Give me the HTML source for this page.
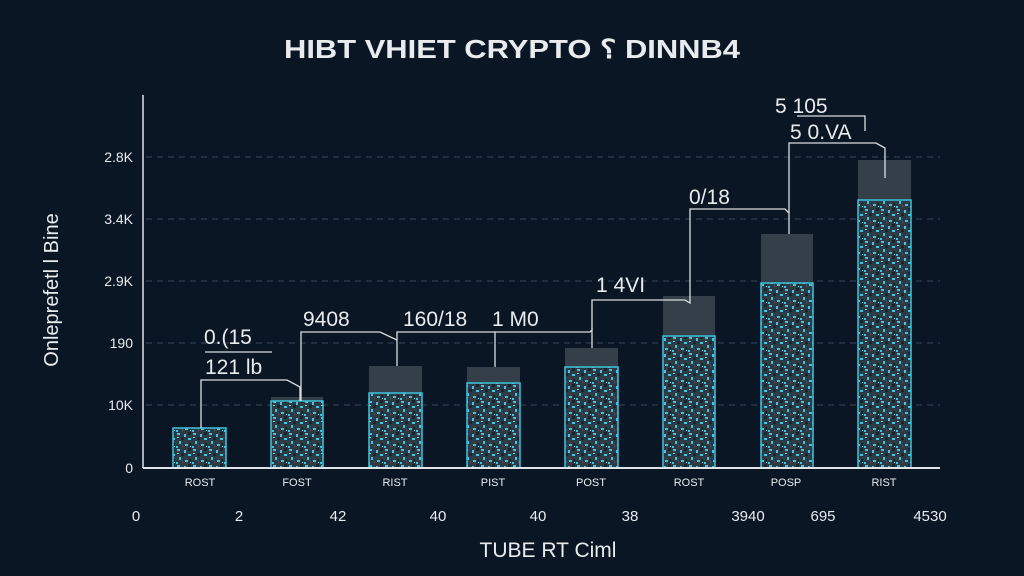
<!DOCTYPE html>
<html><head><meta charset="utf-8"><style>
html,body{margin:0;padding:0;background:#0b1624;}
svg{display:block}
text{font-family:"Liberation Sans",sans-serif;fill:#e8ecef}
</style></head><body>
<svg width="1024" height="576" viewBox="0 0 1024 576" xmlns="http://www.w3.org/2000/svg">
<defs>
<pattern id="tex" width="16" height="16" patternUnits="userSpaceOnUse">
<rect width="16" height="16" fill="#2e3a44"/>
<rect x="1" y="1" width="3" height="2" fill="#3ec6e0"/>
<rect x="8" y="2" width="2" height="3" fill="#3ec6e0"/>
<rect x="12" y="6" width="3" height="2" fill="#3ec6e0"/>
<rect x="3" y="9" width="2" height="3" fill="#3ec6e0"/>
<rect x="9" y="12" width="3" height="2" fill="#3ec6e0"/>
<rect x="0" y="14" width="2" height="2" fill="#3ec6e0"/>
<rect x="5" y="5" width="3" height="3" fill="#1c2630"/>
<rect x="12" y="0" width="3" height="3" fill="#1c2630"/>
<rect x="13" y="11" width="2" height="3" fill="#1c2630"/>
<rect x="1" y="5" width="2" height="1" fill="#6fdcf0"/>
<rect x="14" y="14" width="1" height="1" fill="#6fdcf0"/>
<rect x="6" y="13" width="1" height="2" fill="#4a5864"/>
</pattern>
</defs>
<rect width="1024" height="576" fill="#0b1624"/>
<text x="284" y="58" textLength="456" lengthAdjust="spacingAndGlyphs" font-size="26" font-weight="bold">HIBT VHIET CRYPTO ⸮ DINNB4</text>
<g stroke="#34465a" stroke-width="1" stroke-dasharray="6,5">
<line x1="146" y1="157" x2="940" y2="157"/>
<line x1="146" y1="219" x2="940" y2="219"/>
<line x1="146" y1="281" x2="940" y2="281"/>
<line x1="146" y1="343" x2="940" y2="343"/>
<line x1="146" y1="405" x2="940" y2="405"/>
</g>
<line x1="143" y1="95" x2="143" y2="468" stroke="#dfe4e8" stroke-width="1.5"/>
<g font-size="14" text-anchor="end">
<text x="133" y="162">2.8K</text>
<text x="133" y="224">3.4K</text>
<text x="133" y="286">2.9K</text>
<text x="133" y="348">190</text>
<text x="133" y="410">10K</text>
<text x="133" y="473">0</text>
</g>
<text transform="translate(58,290) rotate(-90)" text-anchor="middle" font-size="20">Onleprefetl l Bine</text>
<g fill="#343f4a">
<rect x="271" y="397" width="52" height="6"/>
<rect x="369" y="366" width="53" height="28"/>
<rect x="467" y="367" width="53" height="17"/>
<rect x="565" y="348" width="53" height="20"/>
<rect x="663" y="296" width="52" height="41"/>
<rect x="761" y="234" width="52" height="50"/>
<rect x="858" y="160" width="53" height="41"/>
</g>
<g fill="url(#tex)" stroke="#3cc4de" stroke-width="1.5">
<rect x="173" y="428" width="53" height="40"/>
<rect x="271" y="401" width="52" height="67"/>
<rect x="369" y="393" width="53" height="75"/>
<rect x="467" y="383" width="53" height="85"/>
<rect x="565" y="367" width="53" height="101"/>
<rect x="663" y="336" width="52" height="132"/>
<rect x="761" y="283" width="52" height="185"/>
<rect x="858" y="200" width="53" height="268"/>
</g>
<line x1="143" y1="468" x2="940" y2="468" stroke="#dfe4e8" stroke-width="2"/>
<g fill="none" stroke="#d8dde2" stroke-width="1.3">
<polyline points="201,428 201,380 287,380 300,387 300,401"/>
<polyline points="301,401 301,332 380,332 397,340 397,366"/>
<polyline points="397,340 397,332 495,332 495,367"/>
<polyline points="495,332 590,332 592,330 592,348"/>
<polyline points="592,330 592,300 685,300 690,303 690,296"/>
<polyline points="690,296 690,209 785,209 789,213 789,234"/>
<polyline points="789,213 789,143 876,143 885,148 885,178"/>
<polyline points="797,116 865,116 865,131"/>
<line x1="205" y1="352" x2="272" y2="352"/>
</g>
<g font-size="21">
<text x="204" y="344">0.(15</text>
<text x="205" y="374">121 lb</text>
<text x="303" y="326">9408</text>
<text x="403" y="326">160/18</text>
<text x="492" y="326">1 M0</text>
<text x="596" y="292">1 4VI</text>
<text x="689" y="204">0/18</text>
<text x="775" y="113">5 105</text>
<text x="790" y="139">5 0.VA</text>
</g>
<g font-size="11" text-anchor="middle">
<text x="200" y="486">ROST</text>
<text x="297" y="486">FOST</text>
<text x="395" y="486">RIST</text>
<text x="493" y="486">PIST</text>
<text x="591" y="486">POST</text>
<text x="689" y="486">ROST</text>
<text x="786" y="486">POSP</text>
<text x="884" y="486">RIST</text>
</g>
<g font-size="15" text-anchor="middle">
<text x="136" y="521">0</text>
<text x="239" y="521">2</text>
<text x="338" y="521">42</text>
<text x="438" y="521">40</text>
<text x="538" y="521">40</text>
<text x="630" y="521">38</text>
<text x="748" y="521">3940</text>
<text x="823" y="521">695</text>
<text x="930" y="521">4530</text>
</g>
<text x="548" y="557" text-anchor="middle" font-size="21">TUBE RT Ciml</text>
</svg>
</body></html>
